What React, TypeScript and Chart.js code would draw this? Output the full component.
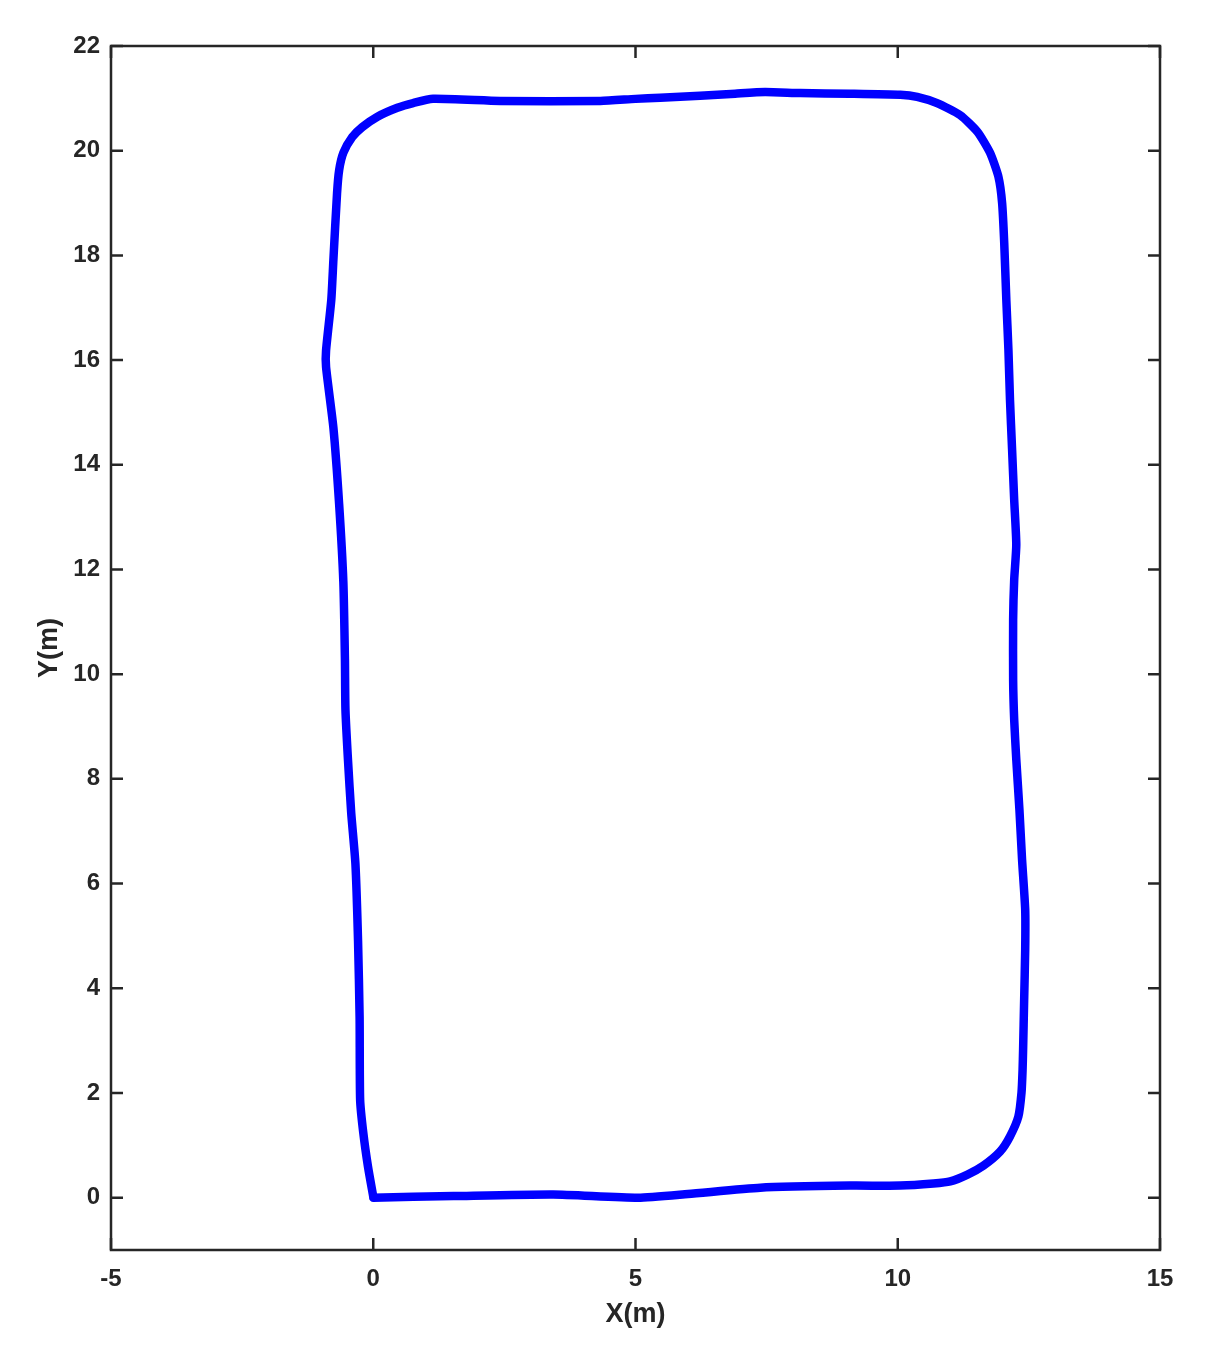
import React, { useEffect, useRef } from "react";
import { Chart, registerables } from "chart.js";

Chart.register(...registerables);

const pathX: number[] = [
  0, 1.53, 3.43, 5.05, 6.0, 7.38, 9.09, 10.05, 10.68, 11.0, 11.33, 11.63, 11.95, 12.14, 12.3, 12.36,
  12.38, 12.39, 12.41, 12.43, 12.43, 12.37, 12.32, 12.26, 12.22, 12.2, 12.2, 12.22, 12.26, 12.22,
  12.18, 12.14, 12.11, 12.07, 12.03, 11.99, 11.92, 11.76, 11.52, 11.19, 10.75, 10.37, 10.05, 9.09,
  8.14, 7.47, 6.9, 6.23, 5.47, 5.0, 4.33, 2.42, 1.14, 0.76, 0.46, 0.08, -0.21, -0.4, -0.57, -0.65,
  -0.69, -0.76, -0.8, -0.9, -0.9, -0.76, -0.65, -0.57, -0.54, -0.53, -0.48, -0.42, -0.34, -0.29,
  -0.26, -0.25, -0.19, -0.1, 0,
];
const pathY: number[] = [
  0, 0.03, 0.06, 0.0, 0.07, 0.19, 0.23, 0.23, 0.27, 0.31, 0.44, 0.61, 0.88, 1.17, 1.55, 2.01,
  2.44, 2.83, 3.78, 4.74, 5.5, 6.46, 7.41, 8.37, 9.13, 9.89, 11.04, 11.8, 12.47, 13.33,
  14.29, 15.24, 16.2, 17.15, 18.24, 19.0, 19.5, 19.96, 20.36, 20.68, 20.91, 21.03, 21.07, 21.09,
  21.1, 21.12, 21.09, 21.05, 21.01, 20.99, 20.95, 20.95, 20.99, 20.91, 20.82, 20.65, 20.45, 20.26, 19.96, 19.63,
  19.19, 17.91, 17.15, 16.18, 15.87, 14.71, 13.24, 11.76, 10.29, 9.32, 8.33, 7.35, 6.38, 4.91,
  3.44, 1.87, 1.24, 0.59, 0.02,
];

const xTicks: number[] = [-5, 0, 5, 10, 15];
const yTicks: number[] = [0, 2, 4, 6, 8, 10, 12, 14, 16, 18, 20, 22];
const xLabel = "X(m)";
const yLabel = "Y(m)";

const AXIS_COLOR = "#262626";
const TICK_FONT = { family: "'Liberation Sans', Arial, sans-serif", size: 24, weight: "bold" as const };
const TITLE_FONT = { family: "'Liberation Sans', Arial, sans-serif", size: 27, weight: "bold" as const };

const framePlugin = {
  id: "matlabFrame",
  afterDraw(chart: any) {
    const { ctx, chartArea } = chart;
    const { left, right, top, bottom } = chartArea;
    const xs = chart.scales.x;
    const ys = chart.scales.y;
    const tl = 12;
    ctx.save();
    ctx.strokeStyle = AXIS_COLOR;
    ctx.lineWidth = 2.5;
    ctx.lineCap = "butt";
    ctx.beginPath();
    ctx.rect(left, top, right - left, bottom - top);
    ctx.stroke();
    ctx.beginPath();
    xTicks.forEach((v) => {
      const px = xs.getPixelForValue(v);
      ctx.moveTo(px, bottom);
      ctx.lineTo(px, bottom - tl);
      ctx.moveTo(px, top);
      ctx.lineTo(px, top + tl);
    });
    yTicks.forEach((v) => {
      const py = ys.getPixelForValue(v);
      ctx.moveTo(left, py);
      ctx.lineTo(left + tl, py);
      ctx.moveTo(right, py);
      ctx.lineTo(right - tl, py);
    });
    ctx.stroke();
    ctx.restore();
  },
};

export default function App() {
  const canvasRef = useRef<HTMLCanvasElement | null>(null);

  useEffect(() => {
    const canvas = canvasRef.current;
    if (!canvas) return;
    const points = pathX.map((x, i) => ({ x, y: pathY[i] }));
    const chart = new Chart(canvas, {
      type: "scatter",
      data: {
        datasets: [
          {
            data: points,
            showLine: true,
            borderColor: "#0000FF",
            backgroundColor: "#0000FF",
            borderWidth: 8.5,
            pointRadius: 0,
            pointHoverRadius: 0,
            tension: 0.2,
            borderJoinStyle: "round",
            borderCapStyle: "round",
          } as any,
        ],
      },
      options: {
        responsive: false,
        animation: false,
        devicePixelRatio: 1,
        layout: { padding: { left: 0, right: 60, top: 46, bottom: 0 } },
        plugins: {
          legend: { display: false },
          tooltip: { enabled: false },
        },
        scales: {
          x: {
            type: "linear",
            min: -5,
            max: 15,
            grid: { display: false, drawTicks: false },
            border: { display: false },
            afterBuildTicks: (s: any) => {
              s.ticks = xTicks.map((v) => ({ value: v }));
            },
            afterFit: (s: any) => {
              s.height = 105;
            },
            ticks: {
              color: AXIS_COLOR,
              font: TICK_FONT,
              padding: 15,
              maxRotation: 0,
              autoSkip: false,
              callback: (v: any) => String(v),
            },
            title: {
              display: true,
              text: xLabel,
              color: AXIS_COLOR,
              font: TITLE_FONT,
              padding: { top: 0, bottom: 24 },
            },
          },
          y: {
            type: "linear",
            min: -1,
            max: 22,
            grid: { display: false, drawTicks: false },
            border: { display: false },
            afterBuildTicks: (s: any) => {
              s.ticks = yTicks.map((v) => ({ value: v }));
            },
            afterFit: (s: any) => {
              s.width = 111;
            },
            ticks: {
              color: AXIS_COLOR,
              font: TICK_FONT,
              padding: 11,
              autoSkip: false,
              callback: (v: any) => String(v),
            },
            title: {
              display: true,
              text: yLabel,
              color: AXIS_COLOR,
              font: TITLE_FONT,
              padding: { top: 33, bottom: 0 },
            },
          },
        },
      },
      plugins: [framePlugin],
    });
    return () => chart.destroy();
  }, []);

  return (
    <div style={{ position: "fixed", left: 0, top: 0, width: 1220, height: 1355, background: "#fff" }}>
      <canvas ref={canvasRef} width={1220} height={1355} style={{ display: "block", width: 1220, height: 1355 }} />
    </div>
  );
}
